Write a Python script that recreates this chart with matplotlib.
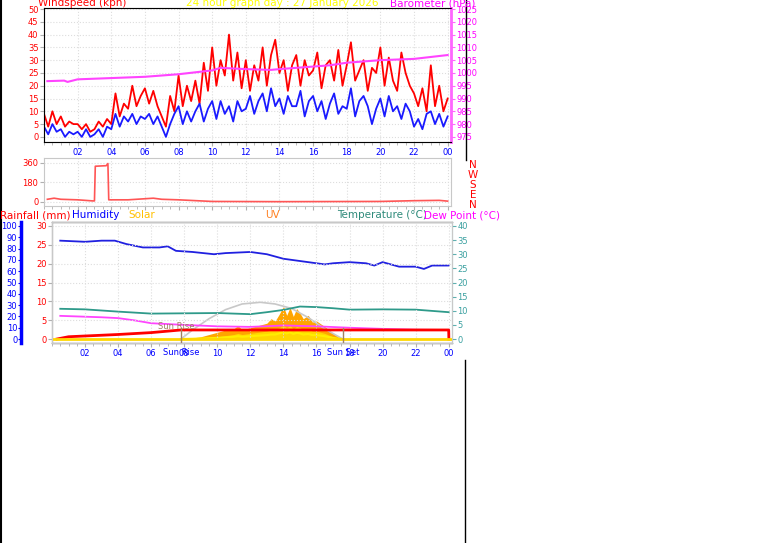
import numpy as np
import matplotlib.pyplot as plt

# ---------------------------------------------------------------------------
# data
# ---------------------------------------------------------------------------
wind_hours = np.arange(0, 24.01, 0.25)
gust = [9, 4, 10, 5, 8, 4, 6, 5, 5, 3, 5, 2, 3, 6, 4, 7,
        5, 17, 8, 13, 11, 20, 12, 16, 19, 13, 18, 12, 8, 4, 16, 10,
        24, 12, 20, 14, 22, 13, 29, 18, 35, 20, 30, 24, 40, 22, 33, 19,
        30, 18, 28, 22, 35, 20, 32, 38, 25, 30, 18, 28, 32, 20, 30, 24,
        26, 33, 19, 28, 30, 22, 34, 20, 28, 37, 22, 26, 30, 18, 27, 25,
        35, 20, 31, 22, 18, 33, 25, 20, 17, 12, 19, 10, 28, 12, 20, 10, 15]
avg_wind = [4, 1, 5, 2, 3, 0, 2, 1, 2, 0, 3, 0, 1, 3, 0, 4,
            3, 9, 4, 8, 6, 9, 5, 8, 7, 9, 5, 8, 4, 0, 5, 9,
            12, 5, 10, 6, 10, 13, 6, 11, 14, 7, 14, 9, 12, 6, 14, 10,
            11, 16, 9, 14, 17, 10, 19, 12, 15, 9, 16, 12, 12, 18, 8, 14,
            16, 10, 14, 7, 13, 17, 9, 12, 11, 19, 8, 14, 16, 12, 5, 11,
            15, 8, 16, 10, 12, 7, 13, 10, 4, 7, 3, 9, 10, 5, 9, 4, 8]

baro_hours = [0.2, 1.2, 1.4, 2, 4, 6, 8, 10, 10.5, 12, 13.5, 14, 16, 17, 18, 19, 20, 22, 24]
baro = [996.8, 997.0, 996.5, 997.5, 998, 998.5, 999.5, 1001, 1002, 1001.5, 1001.2,
        1001.5, 1002.5, 1003, 1004, 1004.5, 1005, 1005.5, 1007]

dir_hours = [0.2, 0.6, 1, 2, 2.9, 3.0, 3.05, 3.7, 3.8, 3.85, 5, 6.5, 7, 8, 10, 14, 20, 22, 23.5, 24]
wind_dir = [25, 35, 25, 20, 10, 10, 330, 335, 355, 20, 20, 35, 25, 20, 5, 3, 5, 12, 15, 8]

hum_hours = [0.5, 2, 3, 3.8, 4.5, 5.5, 6.5, 7, 7.5, 8.5, 9.8, 10.5, 12, 13, 14, 15,
             16, 16.5, 17, 18, 19, 19.5, 20, 21, 22, 22.5, 23, 24]
humidity = [87, 86, 87, 87, 84, 81, 81, 82, 78, 77, 75, 76, 77, 75, 71, 69,
            67, 66, 67, 68, 67, 65, 68, 64, 64, 62, 65, 65]

temp_hours = [0.5, 2, 4, 6, 8, 10, 12, 13, 14, 15, 16, 17, 18, 20, 22, 24]
temperature = [10.7, 10.5, 9.7, 9.0, 9.1, 9.2, 8.8, 9.5, 10.3, 11.5, 11.3, 10.9, 10.4, 10.5, 10.4, 9.5]

dew_hours = [0.5, 3, 4, 5, 6, 8, 10, 12, 14, 16, 18, 20, 22, 24]
dew_point = [8.2, 7.7, 7.4, 6.6, 5.6, 5.0, 4.5, 4.3, 4.8, 4.5, 4.0, 3.6, 3.3, 3.2]

rain_hours = [0.3, 1, 4, 6, 7.8, 24, 24.01]
rain = [0, 0.6, 1.2, 1.7, 2.4, 2.4, 0]

solar_hours = [7.8, 8.5, 9, 9.5, 10, 10.5, 11, 11.25, 11.5, 12, 12.5, 13, 13.25, 13.5, 13.75,
               14, 14.2, 14.4, 14.6, 14.8, 15, 15.2, 15.5, 15.75, 16, 16.5, 17, 17.5]
solar = [0, 1, 2, 4, 6, 8, 9, 12, 8, 10, 12, 14, 18, 16, 22,
         29, 21, 28, 20, 27, 23, 18, 21, 15, 16, 11, 5, 0]
uv = [0, 0.5, 1, 1.5, 2, 3, 4, 5, 4, 5, 6, 7, 8, 8, 10,
      12, 10, 12, 9, 11, 10, 8, 9, 7, 7, 5, 2, 0]
solar_max_hours = [7.8, 8.5, 9.5, 10.5, 11.5, 12.6, 13.5, 14.5, 15.5, 16.5, 17.6]
solar_max = [0, 8, 18, 26, 31, 32.5, 31, 27, 19, 9, 0]

sunrise, sunset = 7.8, 17.6
hour_ticks = list(range(2, 25, 2))
hour_labels = ['%02d' % (h % 24) for h in hour_ticks]

# ---------------------------------------------------------------------------
W, H = 761, 543
fig = plt.figure(figsize=(W / 100, H / 100), dpi=100)
fig.patch.set_facecolor('white')
FS = 6
HFS = 7.5


def box(l, t, r, b):
    return [l / W, 1 - b / H, (r - l) / W, (b - t) / H]


def style(ax):
    for s in ax.spines.values():
        s.set_color('#c8c8c8')
    ax.grid(True, color='#dddddd', linestyle=':', linewidth=0.8)
    ax.tick_params(axis='both', labelsize=FS, length=3, color='#b0b0b0', pad=1)
    ax.set_xlim(0, 24.2)
    ax.set_xticks(hour_ticks)
    ax.set_xticklabels(hour_labels, color='blue')
    ax.set_xticks(np.arange(0, 24.2, 0.5), minor=True)
    ax.tick_params(axis='x', which='minor', length=2, color='#b0b0b0')


# top: wind + barometer
ax1 = fig.add_axes(box(44, 8, 451, 142))
style(ax1)
ax1.set_ylim(-2, 50.4)
ax1.set_yticks(range(0, 51, 5))
ax1.tick_params(axis='y', labelcolor='red')
ax1.plot(wind_hours, gust, color='red', lw=1.3)
ax1.plot(wind_hours, avg_wind, color='#1a1aff', lw=1.3)
axb = ax1.twinx()
axb.set_ylim(975 - 2, 1025.4)
axb.set_yticks(range(975, 1026, 5))
axb.tick_params(axis='y', labelsize=FS, labelcolor='#ff00ff', length=3, color='#ff66ff', pad=1)
axb.spines['right'].set_color('#ff66ff')
axb.spines['right'].set_linewidth(2)
axb.plot(baro_hours, baro, color='#ff44ff', lw=1.5)
fig.text(38 / W, 1 - 3 / H, 'Windspeed (kph)', color='red', fontsize=HFS, va='center')
fig.text(282 / W, 1 - 3 / H, '24 hour graph day : 27 January 2026', color='yellow',
         fontsize=HFS, va='center', ha='center')
fig.text(475 / W, 1 - 3 / H, 'Barometer (hPa)', color='#ff00ff', fontsize=HFS, va='center', ha='right')

# middle: wind direction
ax2 = fig.add_axes(box(44, 158, 451, 206))
style(ax2)
ax2.set_xticklabels([])
ax2.set_ylim(-37, 406)
ax2.set_yticks([0, 180, 360])
ax2.tick_params(axis='y', labelcolor='red')
ax2.plot(dir_hours, wind_dir, color='#ff5555', lw=1.2)
for i, c in enumerate('NWSEN'):
    fig.text(473 / W, 1 - (165 + i * 10) / H, c, color='red', fontsize=HFS, ha='center', va='center')

# bottom: rain / humidity / temperature / solar
ax3 = fig.add_axes(box(52, 222, 452, 343))
style(ax3)
ax3.set_ylim(-1.06, 31.06)
ax3.set_yticks(range(0, 31, 5))
ax3.tick_params(axis='y', labelcolor='red')

axh = ax3.twinx()
axh.set_ylim(-3.5, 103.5)
axh.yaxis.set_ticks_position('left')
axh.yaxis.set_label_position('left')
axh.spines['left'].set_position(('outward', 22))
axh.spines['left'].set_color('blue')
axh.spines['left'].set_linewidth(2.5)
axh.spines['right'].set_visible(False)
axh.set_yticks(range(0, 101, 10))
axh.tick_params(axis='y', labelsize=FS, labelcolor='blue', length=2, color='blue', pad=1)
axh.fill_between(solar_hours, solar, color='#ffa500', lw=0, zorder=2)
axh.fill_between(solar_hours, uv, color='#ffd700', lw=0, zorder=3)
axh.plot(solar_hours, np.array(uv) * 0.5, color='#ffee00', lw=1.5, zorder=3)
axh.plot(solar_max_hours, solar_max, color='#c8c8c8', lw=1.2, zorder=2)
axh.plot(hum_hours, humidity, color='#2020e0', lw=1.3, zorder=4)

axt = ax3.twinx()
axt.set_ylim(-1.4, 41.4)
axt.set_yticks(range(0, 41, 5))
axt.spines['right'].set_color('#5fb0b0')
axt.tick_params(axis='y', labelsize=FS, labelcolor='#3aa0a0', length=3, color='#5fb0b0', pad=1)
axt.plot(temp_hours, temperature, color='#2e9a8a', lw=1.3, zorder=4)
axt.plot(dew_hours, dew_point, color='#ff44ff', lw=1.3, zorder=4)

ax3.set_zorder(5)
ax3.patch.set_visible(False)
ax3.plot(rain_hours, rain, color='red', lw=2)
ax3.axhline(0, color='#ffd700', lw=2)
for hx in (sunrise, sunset):
    ax3.plot([hx, hx], [-1, 3], color='#a08060', lw=1)
ax3.text(sunrise - 0.3, 2.7, 'Sun Rise', color='#a08060', fontsize=FS, ha='center')
ax3.text(sunrise, -4.2, 'Sun Rise', color='blue', fontsize=FS, ha='center')
ax3.text(sunset, -4.2, 'Sun Set', color='blue', fontsize=FS, ha='center')

hy = 1 - 215 / H
fig.text(0, hy, 'Rainfall (mm)', color='red', fontsize=HFS, va='center')
fig.text(72 / W, hy, 'Humidity', color='blue', fontsize=HFS, va='center')
fig.text(128 / W, hy, 'Solar', color='#ffc000', fontsize=HFS, va='center')
fig.text(265 / W, hy, 'UV', color='#ff8020', fontsize=HFS, va='center')
fig.text(337 / W, hy, 'Temperature (°C)', color='#2e8a7a', fontsize=HFS, va='center')
fig.text(424 / W, hy, 'Dew Point (°C)', color='#ff00ff', fontsize=HFS, va='center')

# frame lines
fig.add_artist(plt.Line2D([0.5 / W, 0.5 / W], [0, 1], color='black', lw=1.5))
fig.add_artist(plt.Line2D([465 / W, 465 / W], [0, 1 - 360 / H], color='black', lw=1))
fig.add_artist(plt.Line2D([466 / W, 466 / W], [1 - 160 / H, 1], color='black', lw=1))

fig.savefig('out.png', dpi=100)
